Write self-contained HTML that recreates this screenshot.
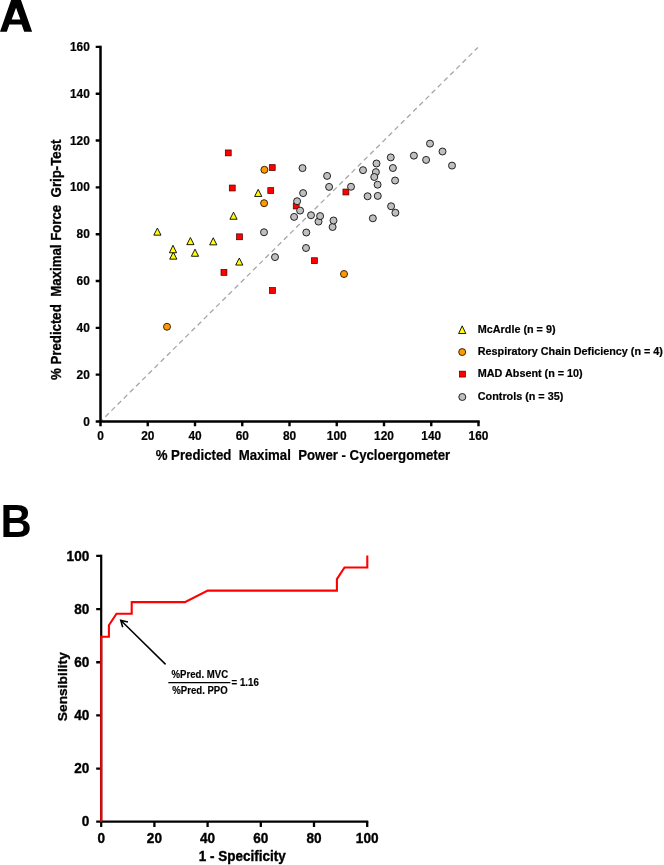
<!DOCTYPE html>
<html><head><meta charset="utf-8"><title>Figure</title>
<style>
html,body{margin:0;padding:0;background:#fff}
svg{display:block;will-change:transform}
text{font-family:"Liberation Sans",sans-serif;font-weight:bold;fill:#000;white-space:pre}
</style></head><body>
<svg width="664" height="865" viewBox="0 0 664 865">
<rect width="664" height="865" fill="#fff"/>
<path d="M0,31.8 L11.3,-0.5 L20.8,-0.5 L32.1,31.8 L24.2,31.8 L21.64,24.6 L9.36,24.6 L6.8,31.8 Z M11.7,19.4 L16.05,7.7 L20.4,19.4 Z" fill="#000" fill-rule="evenodd"/>
<text transform="translate(0.45,537) scale(0.94,1)" font-size="46">B</text>
<g id="panelA">
<line x1="100.5" y1="421.5" x2="477.8" y2="47.56" stroke="#a6a6a6" stroke-width="1.3" stroke-dasharray="5 3.67" stroke-dashoffset="1.91"/>
<path d="M100.5,45.66 V426.3 M95.7,421.5 H479.70" stroke="#000" stroke-width="2.5" fill="none"/>
<path d="M95.7,374.67 H100.5 M147.75,421.5 V426.3 M95.7,327.84 H100.5 M195.00,421.5 V426.3 M95.7,281.01 H100.5 M242.25,421.5 V426.3 M95.7,234.18 H100.5 M289.50,421.5 V426.3 M95.7,187.35 H100.5 M336.75,421.5 V426.3 M95.7,140.52 H100.5 M384.00,421.5 V426.3 M95.7,93.69 H100.5 M431.25,421.5 V426.3 M95.7,46.86 H100.5 M478.50,421.5 V426.3" stroke="#000" stroke-width="2.4" fill="none"/>
<text transform="translate(89.80,425.60) scale(1,1.04)" font-size="11.9" text-anchor="end" stroke="#000" stroke-width="0.2">0</text>
<text transform="translate(100.50,440.30) scale(1,1.04)" font-size="11.9" text-anchor="middle" stroke="#000" stroke-width="0.2">0</text>
<text transform="translate(89.80,378.77) scale(1,1.04)" font-size="11.9" text-anchor="end" stroke="#000" stroke-width="0.2">20</text>
<text transform="translate(147.75,440.30) scale(1,1.04)" font-size="11.9" text-anchor="middle" stroke="#000" stroke-width="0.2">20</text>
<text transform="translate(89.80,331.94) scale(1,1.04)" font-size="11.9" text-anchor="end" stroke="#000" stroke-width="0.2">40</text>
<text transform="translate(195.00,440.30) scale(1,1.04)" font-size="11.9" text-anchor="middle" stroke="#000" stroke-width="0.2">40</text>
<text transform="translate(89.80,285.11) scale(1,1.04)" font-size="11.9" text-anchor="end" stroke="#000" stroke-width="0.2">60</text>
<text transform="translate(242.25,440.30) scale(1,1.04)" font-size="11.9" text-anchor="middle" stroke="#000" stroke-width="0.2">60</text>
<text transform="translate(89.80,238.28) scale(1,1.04)" font-size="11.9" text-anchor="end" stroke="#000" stroke-width="0.2">80</text>
<text transform="translate(289.50,440.30) scale(1,1.04)" font-size="11.9" text-anchor="middle" stroke="#000" stroke-width="0.2">80</text>
<text transform="translate(89.80,191.45) scale(1,1.04)" font-size="11.9" text-anchor="end" stroke="#000" stroke-width="0.2">100</text>
<text transform="translate(336.75,440.30) scale(1,1.04)" font-size="11.9" text-anchor="middle" stroke="#000" stroke-width="0.2">100</text>
<text transform="translate(89.80,144.62) scale(1,1.04)" font-size="11.9" text-anchor="end" stroke="#000" stroke-width="0.2">120</text>
<text transform="translate(384.00,440.30) scale(1,1.04)" font-size="11.9" text-anchor="middle" stroke="#000" stroke-width="0.2">120</text>
<text transform="translate(89.80,97.79) scale(1,1.04)" font-size="11.9" text-anchor="end" stroke="#000" stroke-width="0.2">140</text>
<text transform="translate(431.25,440.30) scale(1,1.04)" font-size="11.9" text-anchor="middle" stroke="#000" stroke-width="0.2">140</text>
<text transform="translate(89.80,50.96) scale(1,1.04)" font-size="11.9" text-anchor="end" stroke="#000" stroke-width="0.2">160</text>
<text transform="translate(478.50,440.30) scale(1,1.04)" font-size="11.9" text-anchor="middle" stroke="#000" stroke-width="0.2">160</text>
<text transform="translate(155.70,460.10) scale(1,1.04)" font-size="13.23" stroke="#000" stroke-width="0.2">%&#160;Predicted&#160;&#160;Maximal&#160;&#160;Power&#160;-&#160;Cycloergometer</text>
<text transform="translate(60.80,380.00) rotate(-90) scale(1,1.04)" font-size="13.27" stroke="#000" stroke-width="0.3">%&#160;Predicted&#160;&#160;Maximal&#160;Force&#160;&#160;Grip-Test</text>
<polygon points="157.4,228.05 161.00,235.15 153.80,235.15" fill="#ffff00" stroke="#000" stroke-width="0.9" stroke-linejoin="miter"/>
<polygon points="190.4,237.55 194.00,244.65 186.80,244.65" fill="#ffff00" stroke="#000" stroke-width="0.9" stroke-linejoin="miter"/>
<polygon points="213.25,237.75 216.85,244.85 209.65,244.85" fill="#ffff00" stroke="#000" stroke-width="0.9" stroke-linejoin="miter"/>
<polygon points="173.3,252.05 176.90,259.15 169.70,259.15" fill="#ffff00" stroke="#000" stroke-width="0.9" stroke-linejoin="miter"/>
<polygon points="173,245.25 176.60,252.75 169.40,252.75" fill="#ffff00" stroke="#000" stroke-width="0.9" stroke-linejoin="miter"/>
<polygon points="195,249.15 198.60,256.25 191.40,256.25" fill="#ffff00" stroke="#000" stroke-width="0.9" stroke-linejoin="miter"/>
<polygon points="239.3,258.05 242.90,265.05 235.70,265.05" fill="#ffff00" stroke="#000" stroke-width="0.9" stroke-linejoin="miter"/>
<polygon points="233.5,212.15 237.10,219.25 229.90,219.25" fill="#ffff00" stroke="#000" stroke-width="0.9" stroke-linejoin="miter"/>
<polygon points="258.2,189.35 261.80,196.45 254.60,196.45" fill="#ffff00" stroke="#000" stroke-width="0.9" stroke-linejoin="miter"/>
<rect x="225.30" y="149.95" width="5.9" height="5.9" fill="#ff0000" stroke="#3c0000" stroke-width="0.7"/>
<rect x="269.30" y="164.65" width="5.9" height="5.9" fill="#ff0000" stroke="#3c0000" stroke-width="0.7"/>
<rect x="229.30" y="185.05" width="5.9" height="5.9" fill="#ff0000" stroke="#3c0000" stroke-width="0.7"/>
<rect x="267.80" y="187.65" width="5.9" height="5.9" fill="#ff0000" stroke="#3c0000" stroke-width="0.7"/>
<rect x="293.25" y="203.05" width="5.9" height="5.9" fill="#ff0000" stroke="#3c0000" stroke-width="0.7"/>
<rect x="342.95" y="189.05" width="5.9" height="5.9" fill="#ff0000" stroke="#3c0000" stroke-width="0.7"/>
<rect x="236.55" y="233.85" width="5.9" height="5.9" fill="#ff0000" stroke="#3c0000" stroke-width="0.7"/>
<rect x="221.00" y="269.45" width="5.9" height="5.9" fill="#ff0000" stroke="#3c0000" stroke-width="0.7"/>
<rect x="269.45" y="287.55" width="5.9" height="5.9" fill="#ff0000" stroke="#3c0000" stroke-width="0.7"/>
<rect x="311.45" y="257.75" width="5.9" height="5.9" fill="#ff0000" stroke="#3c0000" stroke-width="0.7"/>
<circle cx="264.4" cy="169.8" r="3.5" fill="#ff9900" stroke="#241400" stroke-width="0.9"/>
<circle cx="264.1" cy="203.2" r="3.5" fill="#ff9900" stroke="#241400" stroke-width="0.9"/>
<circle cx="344" cy="274" r="3.5" fill="#ff9900" stroke="#241400" stroke-width="0.9"/>
<circle cx="167" cy="326.75" r="3.5" fill="#ff9900" stroke="#241400" stroke-width="0.9"/>
<circle cx="306" cy="248" r="3.5" fill="#bfbfbf" stroke="#0d0d0d" stroke-width="0.9"/>
<circle cx="275" cy="257.1" r="3.5" fill="#bfbfbf" stroke="#0d0d0d" stroke-width="0.9"/>
<circle cx="264" cy="232.25" r="3.5" fill="#bfbfbf" stroke="#0d0d0d" stroke-width="0.9"/>
<circle cx="306.3" cy="232.5" r="3.5" fill="#bfbfbf" stroke="#0d0d0d" stroke-width="0.9"/>
<circle cx="332.6" cy="227" r="3.5" fill="#bfbfbf" stroke="#0d0d0d" stroke-width="0.9"/>
<circle cx="333.5" cy="220.5" r="3.5" fill="#bfbfbf" stroke="#0d0d0d" stroke-width="0.9"/>
<circle cx="318.5" cy="221.6" r="3.5" fill="#bfbfbf" stroke="#0d0d0d" stroke-width="0.9"/>
<circle cx="320.1" cy="216.1" r="3.5" fill="#bfbfbf" stroke="#0d0d0d" stroke-width="0.9"/>
<circle cx="311" cy="215.25" r="3.5" fill="#bfbfbf" stroke="#0d0d0d" stroke-width="0.9"/>
<circle cx="294.1" cy="216.9" r="3.5" fill="#bfbfbf" stroke="#0d0d0d" stroke-width="0.9"/>
<circle cx="372.85" cy="218.3" r="3.5" fill="#bfbfbf" stroke="#0d0d0d" stroke-width="0.9"/>
<circle cx="391.1" cy="206.25" r="3.5" fill="#bfbfbf" stroke="#0d0d0d" stroke-width="0.9"/>
<circle cx="395.4" cy="212.75" r="3.5" fill="#bfbfbf" stroke="#0d0d0d" stroke-width="0.9"/>
<circle cx="300.1" cy="210.6" r="3.5" fill="#bfbfbf" stroke="#0d0d0d" stroke-width="0.9"/>
<circle cx="297.1" cy="201.2" r="3.5" fill="#bfbfbf" stroke="#0d0d0d" stroke-width="0.9"/>
<circle cx="303.1" cy="193.1" r="3.5" fill="#bfbfbf" stroke="#0d0d0d" stroke-width="0.9"/>
<circle cx="367.6" cy="196.25" r="3.5" fill="#bfbfbf" stroke="#0d0d0d" stroke-width="0.9"/>
<circle cx="377.75" cy="195.9" r="3.5" fill="#bfbfbf" stroke="#0d0d0d" stroke-width="0.9"/>
<circle cx="351" cy="186.75" r="3.5" fill="#bfbfbf" stroke="#0d0d0d" stroke-width="0.9"/>
<circle cx="329.1" cy="186.9" r="3.5" fill="#bfbfbf" stroke="#0d0d0d" stroke-width="0.9"/>
<circle cx="377.6" cy="184.7" r="3.5" fill="#bfbfbf" stroke="#0d0d0d" stroke-width="0.9"/>
<circle cx="395.1" cy="180.5" r="3.5" fill="#bfbfbf" stroke="#0d0d0d" stroke-width="0.9"/>
<circle cx="375.9" cy="172.1" r="3.5" fill="#bfbfbf" stroke="#0d0d0d" stroke-width="0.9"/>
<circle cx="374.25" cy="177" r="3.5" fill="#bfbfbf" stroke="#0d0d0d" stroke-width="0.9"/>
<circle cx="327.1" cy="175.9" r="3.5" fill="#bfbfbf" stroke="#0d0d0d" stroke-width="0.9"/>
<circle cx="363" cy="170.15" r="3.5" fill="#bfbfbf" stroke="#0d0d0d" stroke-width="0.9"/>
<circle cx="302.5" cy="168.1" r="3.5" fill="#bfbfbf" stroke="#0d0d0d" stroke-width="0.9"/>
<circle cx="392.9" cy="168" r="3.5" fill="#bfbfbf" stroke="#0d0d0d" stroke-width="0.9"/>
<circle cx="452" cy="165.6" r="3.5" fill="#bfbfbf" stroke="#0d0d0d" stroke-width="0.9"/>
<circle cx="376.5" cy="163.5" r="3.5" fill="#bfbfbf" stroke="#0d0d0d" stroke-width="0.9"/>
<circle cx="426.1" cy="159.9" r="3.5" fill="#bfbfbf" stroke="#0d0d0d" stroke-width="0.9"/>
<circle cx="390.75" cy="157.4" r="3.5" fill="#bfbfbf" stroke="#0d0d0d" stroke-width="0.9"/>
<circle cx="413.9" cy="155.65" r="3.5" fill="#bfbfbf" stroke="#0d0d0d" stroke-width="0.9"/>
<circle cx="442.5" cy="151.5" r="3.5" fill="#bfbfbf" stroke="#0d0d0d" stroke-width="0.9"/>
<circle cx="430" cy="143.6" r="3.5" fill="#bfbfbf" stroke="#0d0d0d" stroke-width="0.9"/>
<polygon points="462.2,325.85 465.80,333.55 458.60,333.55" fill="#ffff00" stroke="#000" stroke-width="0.9" stroke-linejoin="miter"/>
<circle cx="462.2" cy="352.05" r="3.5" fill="#ff9900" stroke="#241400" stroke-width="0.9"/>
<rect x="459.45" y="371.15" width="5.9" height="5.9" fill="#ff0000" stroke="#3c0000" stroke-width="0.7"/>
<circle cx="462.3" cy="397" r="3.5" fill="#bfbfbf" stroke="#0d0d0d" stroke-width="0.9"/>
<text transform="translate(477.80,332.90) scale(1,1.06)" font-size="10.82" stroke="#000" stroke-width="0.2">McArdle (n = 9)</text>
<text transform="translate(477.80,355.15) scale(1,1.06)" font-size="10.82" stroke="#000" stroke-width="0.2">Respiratory Chain Deficiency (n = 4)</text>
<text transform="translate(477.80,377.25) scale(1,1.06)" font-size="10.82" stroke="#000" stroke-width="0.2">MAD Absent (n = 10)</text>
<text transform="translate(477.80,399.55) scale(1,1.06)" font-size="10.82" stroke="#000" stroke-width="0.2">Controls (n = 35)</text>
</g>
<g id="panelB">
<path d="M101.2,554.75 V826.9000000000001 M96.2,821.7 H368.30" stroke="#000" stroke-width="2.2" fill="none"/>
<path d="M96.2,768.55 H101.2 M154.40,821.7 V826.9000000000001 M96.2,715.40 H101.2 M207.60,821.7 V826.9000000000001 M96.2,662.25 H101.2 M260.80,821.7 V826.9000000000001 M96.2,609.10 H101.2 M314.00,821.7 V826.9000000000001 M96.2,555.95 H101.2 M367.20,821.7 V826.9000000000001" stroke="#000" stroke-width="2.3" fill="none"/>
<text transform="translate(89.30,826.35) scale(1,1.14)" font-size="13.6" text-anchor="end" stroke="#000" stroke-width="0.35">0</text>
<text transform="translate(101.20,842.90) scale(1,1.14)" font-size="13.6" text-anchor="middle" stroke="#000" stroke-width="0.35">0</text>
<text transform="translate(89.30,773.20) scale(1,1.14)" font-size="13.6" text-anchor="end" stroke="#000" stroke-width="0.35">20</text>
<text transform="translate(154.40,842.90) scale(1,1.14)" font-size="13.6" text-anchor="middle" stroke="#000" stroke-width="0.35">20</text>
<text transform="translate(89.30,720.05) scale(1,1.14)" font-size="13.6" text-anchor="end" stroke="#000" stroke-width="0.35">40</text>
<text transform="translate(207.60,842.90) scale(1,1.14)" font-size="13.6" text-anchor="middle" stroke="#000" stroke-width="0.35">40</text>
<text transform="translate(89.30,666.90) scale(1,1.14)" font-size="13.6" text-anchor="end" stroke="#000" stroke-width="0.35">60</text>
<text transform="translate(260.80,842.90) scale(1,1.14)" font-size="13.6" text-anchor="middle" stroke="#000" stroke-width="0.35">60</text>
<text transform="translate(89.30,613.75) scale(1,1.14)" font-size="13.6" text-anchor="end" stroke="#000" stroke-width="0.35">80</text>
<text transform="translate(314.00,842.90) scale(1,1.14)" font-size="13.6" text-anchor="middle" stroke="#000" stroke-width="0.35">80</text>
<text transform="translate(89.30,560.60) scale(1,1.14)" font-size="13.6" text-anchor="end" stroke="#000" stroke-width="0.35">100</text>
<text transform="translate(367.20,842.90) scale(1,1.14)" font-size="13.6" text-anchor="middle" stroke="#000" stroke-width="0.35">100</text>
<text transform="translate(198.80,861.30) scale(1,1.14)" font-size="13.5" stroke="#000" stroke-width="0.35">1&#160;-&#160;Specificity</text>
<text transform="translate(67.20,721.20) rotate(-90) scale(1.1,1.0)" font-size="12.55" stroke="#000" stroke-width="0.3">Sensibility</text>
<polyline points="101.30,821.70 101.30,636.82 108.90,636.82 108.90,625.28 116.50,613.72 131.70,613.72 131.70,602.16 184.90,602.16 207.70,590.60 336.90,590.60 336.90,579.07 344.50,567.51 367.30,567.51 367.30,555.42" fill="none" stroke="#ff0000" stroke-width="2.1" stroke-linejoin="miter"/>
<path d="M165.6,664.4 L120.7,620.3 M127.9,621.9 L120.7,620.3 L122.7,627.2" fill="none" stroke="#000" stroke-width="1.5" stroke-linecap="butt"/>
<text transform="translate(199.80,678.00) scale(1,1.12)" font-size="9.6" text-anchor="middle" stroke="#000" stroke-width="0.15">%Pred. MVC</text>
<text transform="translate(200.00,694.20) scale(1,1.12)" font-size="9.6" text-anchor="middle" stroke="#000" stroke-width="0.15">%Pred. PPO</text>
<line x1="168.3" y1="682.6" x2="230.4" y2="682.6" stroke="#000" stroke-width="1.2"/>
<text transform="translate(231.60,686.10) scale(1,1.12)" font-size="9.7" stroke="#000" stroke-width="0.15">= 1.16</text>
</g>
</svg></body></html>
